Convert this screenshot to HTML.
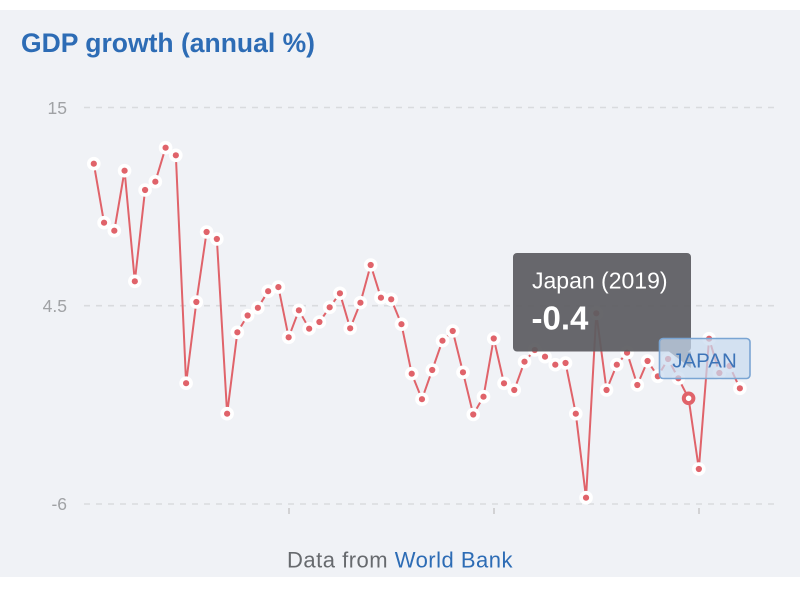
<!DOCTYPE html>
<html>
<head>
<meta charset="utf-8">
<style>
  html, body { margin: 0; padding: 0; background: #ffffff; }
  body { width: 812px; height: 592px; overflow: hidden; }
  svg { display: block; }
  text { font-family: "Liberation Sans", "DejaVu Sans", sans-serif; }
</style>
</head>
<body>
<svg width="812" height="592" viewBox="0 0 812 592" xmlns="http://www.w3.org/2000/svg">
  <!-- panel -->
  <rect x="0" y="10" width="800" height="567" fill="#f0f2f6"/>

  <!-- title -->
  <text x="21" y="52" font-size="26.5" font-weight="bold" fill="#2d6cb5">GDP growth (annual %)</text>

  <!-- gridlines -->
  <g stroke="#d9dbde" stroke-width="1.6" stroke-dasharray="6 6">
    <line x1="84" y1="107.5" x2="776" y2="107.5"/>
    <line x1="84" y1="305.7" x2="776" y2="305.7"/>
    <line x1="84" y1="504" x2="776" y2="504"/>
  </g>

  <!-- y labels -->
  <g font-size="17.5" fill="#a0a2a5" text-anchor="end">
    <text x="67" y="114">15</text>
    <text x="67" y="312">4.5</text>
    <text x="67" y="510">-6</text>
  </g>

  <!-- x ticks -->
  <g stroke="#c8c8c8" stroke-width="1.5">
    <line x1="289" y1="508" x2="289" y2="514"/>
    <line x1="494" y1="508" x2="494" y2="514"/>
    <line x1="699" y1="508" x2="699" y2="514"/>
  </g>

  <!-- series line -->
  <polyline fill="none" stroke="#e0636a" stroke-width="2" stroke-linejoin="round" points="
93.8,163.7 104.06,222.7 114.31,230.7 124.57,170.7 134.82,281.3 145.08,190 155.33,181.7 165.59,147.7 175.84,155.3 186.1,383.2
196.35,302 206.61,232 216.86,239 227.12,413.7 237.37,332.3 247.63,315.5 257.88,307.8 268.14,291.2 278.39,287.1 288.65,337.3
298.9,310.3 309.16,328.7 319.41,322 329.67,307.3 339.92,293.3 350.18,328.3 360.43,302.7 370.69,265 380.94,297.7 391.2,299.3
401.45,324.2 411.71,373.7 421.96,399.2 432.22,370 442.47,340.7 452.73,331 462.98,372.3 473.24,414.5 483.49,396.7 493.75,338.5
504,383.3 514.26,390 524.51,361.7 534.77,350 545.02,356.7 555.28,364.7 565.53,363 575.79,413.7 586.04,497.7 596.3,313.3
606.55,390 616.81,364.7 627.06,352.7 637.32,385 647.57,361 657.83,376.3 668.08,359 678.34,378.3 688.59,398.3 698.85,469
709.1,338.7 719.36,373 729.61,366 739.87,388.3"/>

  <!-- halos -->
  <g fill="#ffffff">
    <circle cx="93.8" cy="163.7" r="6.8"/><circle cx="104.06" cy="222.7" r="6.8"/><circle cx="114.31" cy="230.7" r="6.8"/><circle cx="124.57" cy="170.7" r="6.8"/><circle cx="134.82" cy="281.3" r="6.8"/><circle cx="145.08" cy="190" r="6.8"/><circle cx="155.33" cy="181.7" r="6.8"/><circle cx="165.59" cy="147.7" r="6.8"/><circle cx="175.84" cy="155.3" r="6.8"/><circle cx="186.1" cy="383.2" r="6.8"/>
    <circle cx="196.35" cy="302" r="6.8"/><circle cx="206.61" cy="232" r="6.8"/><circle cx="216.86" cy="239" r="6.8"/><circle cx="227.12" cy="413.7" r="6.8"/><circle cx="237.37" cy="332.3" r="6.8"/><circle cx="247.63" cy="315.5" r="6.8"/><circle cx="257.88" cy="307.8" r="6.8"/><circle cx="268.14" cy="291.2" r="6.8"/><circle cx="278.39" cy="287.1" r="6.8"/><circle cx="288.65" cy="337.3" r="6.8"/>
    <circle cx="298.9" cy="310.3" r="6.8"/><circle cx="309.16" cy="328.7" r="6.8"/><circle cx="319.41" cy="322" r="6.8"/><circle cx="329.67" cy="307.3" r="6.8"/><circle cx="339.92" cy="293.3" r="6.8"/><circle cx="350.18" cy="328.3" r="6.8"/><circle cx="360.43" cy="302.7" r="6.8"/><circle cx="370.69" cy="265" r="6.8"/><circle cx="380.94" cy="297.7" r="6.8"/><circle cx="391.2" cy="299.3" r="6.8"/>
    <circle cx="401.45" cy="324.2" r="6.8"/><circle cx="411.71" cy="373.7" r="6.8"/><circle cx="421.96" cy="399.2" r="6.8"/><circle cx="432.22" cy="370" r="6.8"/><circle cx="442.47" cy="340.7" r="6.8"/><circle cx="452.73" cy="331" r="6.8"/><circle cx="462.98" cy="372.3" r="6.8"/><circle cx="473.24" cy="414.5" r="6.8"/><circle cx="483.49" cy="396.7" r="6.8"/><circle cx="493.75" cy="338.5" r="6.8"/>
    <circle cx="504" cy="383.3" r="6.8"/><circle cx="514.26" cy="390" r="6.8"/><circle cx="524.51" cy="361.7" r="6.8"/><circle cx="534.77" cy="350" r="6.8"/><circle cx="545.02" cy="356.7" r="6.8"/><circle cx="555.28" cy="364.7" r="6.8"/><circle cx="565.53" cy="363" r="6.8"/><circle cx="575.79" cy="413.7" r="6.8"/><circle cx="586.04" cy="497.7" r="6.8"/><circle cx="596.3" cy="313.3" r="6.8"/>
    <circle cx="606.55" cy="390" r="6.8"/><circle cx="616.81" cy="364.7" r="6.8"/><circle cx="627.06" cy="352.7" r="6.8"/><circle cx="637.32" cy="385" r="6.8"/><circle cx="647.57" cy="361" r="6.8"/><circle cx="657.83" cy="376.3" r="6.8"/><circle cx="668.08" cy="359" r="6.8"/><circle cx="678.34" cy="378.3" r="6.8"/><circle cx="698.85" cy="469" r="6.8"/>
    <circle cx="709.1" cy="338.7" r="6.8"/><circle cx="719.36" cy="373" r="6.8"/><circle cx="729.61" cy="366" r="6.8"/><circle cx="739.87" cy="388.3" r="6.8"/>
  </g>
  <!-- dots -->
  <g fill="#e0636a">
    <circle cx="93.8" cy="163.7" r="3.1"/><circle cx="104.06" cy="222.7" r="3.1"/><circle cx="114.31" cy="230.7" r="3.1"/><circle cx="124.57" cy="170.7" r="3.1"/><circle cx="134.82" cy="281.3" r="3.1"/><circle cx="145.08" cy="190" r="3.1"/><circle cx="155.33" cy="181.7" r="3.1"/><circle cx="165.59" cy="147.7" r="3.1"/><circle cx="175.84" cy="155.3" r="3.1"/><circle cx="186.1" cy="383.2" r="3.1"/>
    <circle cx="196.35" cy="302" r="3.1"/><circle cx="206.61" cy="232" r="3.1"/><circle cx="216.86" cy="239" r="3.1"/><circle cx="227.12" cy="413.7" r="3.1"/><circle cx="237.37" cy="332.3" r="3.1"/><circle cx="247.63" cy="315.5" r="3.1"/><circle cx="257.88" cy="307.8" r="3.1"/><circle cx="268.14" cy="291.2" r="3.1"/><circle cx="278.39" cy="287.1" r="3.1"/><circle cx="288.65" cy="337.3" r="3.1"/>
    <circle cx="298.9" cy="310.3" r="3.1"/><circle cx="309.16" cy="328.7" r="3.1"/><circle cx="319.41" cy="322" r="3.1"/><circle cx="329.67" cy="307.3" r="3.1"/><circle cx="339.92" cy="293.3" r="3.1"/><circle cx="350.18" cy="328.3" r="3.1"/><circle cx="360.43" cy="302.7" r="3.1"/><circle cx="370.69" cy="265" r="3.1"/><circle cx="380.94" cy="297.7" r="3.1"/><circle cx="391.2" cy="299.3" r="3.1"/>
    <circle cx="401.45" cy="324.2" r="3.1"/><circle cx="411.71" cy="373.7" r="3.1"/><circle cx="421.96" cy="399.2" r="3.1"/><circle cx="432.22" cy="370" r="3.1"/><circle cx="442.47" cy="340.7" r="3.1"/><circle cx="452.73" cy="331" r="3.1"/><circle cx="462.98" cy="372.3" r="3.1"/><circle cx="473.24" cy="414.5" r="3.1"/><circle cx="483.49" cy="396.7" r="3.1"/><circle cx="493.75" cy="338.5" r="3.1"/>
    <circle cx="504" cy="383.3" r="3.1"/><circle cx="514.26" cy="390" r="3.1"/><circle cx="524.51" cy="361.7" r="3.1"/><circle cx="534.77" cy="350" r="3.1"/><circle cx="545.02" cy="356.7" r="3.1"/><circle cx="555.28" cy="364.7" r="3.1"/><circle cx="565.53" cy="363" r="3.1"/><circle cx="575.79" cy="413.7" r="3.1"/><circle cx="586.04" cy="497.7" r="3.1"/><circle cx="596.3" cy="313.3" r="3.1"/>
    <circle cx="606.55" cy="390" r="3.1"/><circle cx="616.81" cy="364.7" r="3.1"/><circle cx="627.06" cy="352.7" r="3.1"/><circle cx="637.32" cy="385" r="3.1"/><circle cx="647.57" cy="361" r="3.1"/><circle cx="657.83" cy="376.3" r="3.1"/><circle cx="668.08" cy="359" r="3.1"/><circle cx="678.34" cy="378.3" r="3.1"/><circle cx="698.85" cy="469" r="3.1"/>
    <circle cx="709.1" cy="338.7" r="3.1"/><circle cx="719.36" cy="373" r="3.1"/><circle cx="729.61" cy="366" r="3.1"/><circle cx="739.87" cy="388.3" r="3.1"/>
  </g>

  <!-- highlighted 2019 point -->
  <circle cx="688.6" cy="398.3" r="4.8" fill="#ffffff" stroke="#e0636a" stroke-width="4"/>

  <!-- tooltip -->
  <g>
    <rect x="513" y="253" width="178" height="98.5" rx="4" ry="4" fill="#5c5d61" fill-opacity="0.93"/>
    <polygon points="669,351.5 690.8,351.5 690.8,368" fill="#5c5d61" fill-opacity="0.93"/>
    <text x="532" y="288.3" font-size="23" fill="#ffffff">Japan (2019)</text>
    <text x="531.5" y="329.3" font-size="33" font-weight="bold" fill="#ffffff">-0.4</text>
  </g>

  <!-- series label -->
  <g>
    <rect x="659.5" y="338.5" width="90.5" height="40" rx="3.5" ry="3.5" fill="#c8daef" fill-opacity="0.72" stroke="#7aa5d3" stroke-width="1.6"/>
    <text x="704.5" y="367.7" font-size="20.5" fill="#3d74b8" text-anchor="middle">JAPAN</text>
  </g>

  <!-- footer -->
  <text x="287" y="567.3" font-size="22" letter-spacing="0.5"><tspan fill="#676a6e">Data from </tspan><tspan fill="#2d6cb5">World Bank</tspan></text>
</svg>
</body>
</html>
